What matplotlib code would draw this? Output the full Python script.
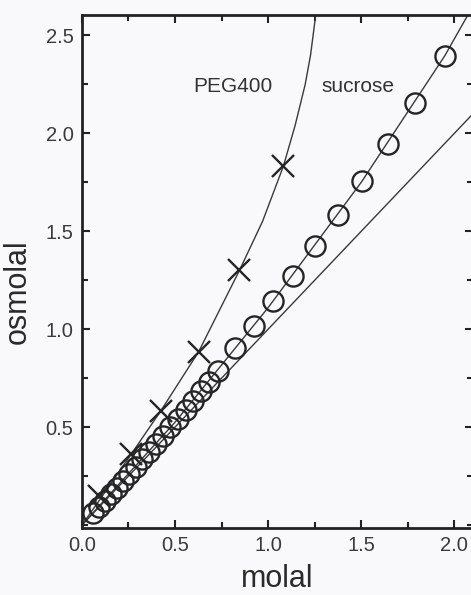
import numpy as np
import matplotlib
matplotlib.use("Agg")
import matplotlib.pyplot as plt
from matplotlib.ticker import MultipleLocator

plt.rcParams['font.family'] = ['Liberation Sans', 'DejaVu Sans']

# sucrose data points (molal, osmolal)
suc_molal = [0.060, 0.090, 0.122, 0.154, 0.187, 0.220, 0.254, 0.289, 0.325,
             0.361, 0.398, 0.437, 0.476, 0.516, 0.557, 0.598, 0.641, 0.685,
             0.730, 0.824, 0.923, 1.027, 1.136, 1.252, 1.375, 1.505, 1.643,
             1.791, 1.948]
suc_osmolal = [0.060, 0.092, 0.124, 0.157, 0.191, 0.226, 0.262, 0.299, 0.337,
               0.376, 0.416, 0.457, 0.499, 0.543, 0.588, 0.635, 0.683, 0.733,
               0.785, 0.905, 1.018, 1.143, 1.274, 1.425, 1.581, 1.756, 1.943,
               2.154, 2.395]

# sucrose fitted line
suc_fit_molal = [0.0, 0.5, 1.0, 1.5, 1.948, 2.07]
suc_fit_osmolal = [0.0, 0.525, 1.11, 1.75, 2.395, 2.60]

# PEG400 data points
peg_molal = [0.092, 0.265, 0.425, 0.627, 0.846, 1.082]
peg_osmolal = [0.150, 0.365, 0.585, 0.885, 1.301, 1.832]

# PEG400 fitted curve
peg_fit_molal = [0.0, 0.10, 0.265, 0.425, 0.627, 0.846, 0.97, 1.082, 1.145,
                 1.199, 1.228, 1.255]
peg_fit_osmolal = [0.0, 0.135, 0.362, 0.585, 0.885, 1.30, 1.55, 1.832, 2.04,
                   2.249, 2.40, 2.60]

# ideal line (osmolal = molal)
ideal_molal = [0.0, 2.2]
ideal_osmolal = [0.0, 2.2]

fig = plt.figure(figsize=(4.71, 5.95), dpi=100, facecolor='#f9f9fb')
ax = fig.add_axes([0.1737, 0.1134, 0.8306, 0.8618])
ax.set_facecolor('#f9f9fb')

line_col = '#3a3a3a'
ax.plot(ideal_molal, ideal_osmolal, color=line_col, lw=1.0)
ax.plot(suc_fit_molal, suc_fit_osmolal, color=line_col, lw=1.0)
ax.plot(peg_fit_molal, peg_fit_osmolal, color=line_col, lw=1.0)
ax.plot(suc_molal, suc_osmolal, ls='none', marker='o', ms=14.5, mfc='none',
        mec='#252525', mew=1.7)
ax.plot(peg_molal, peg_osmolal, ls='none', marker='x', ms=16,
        mec='#252525', mew=1.7)

ax.text(0.812, 2.211, 'PEG400', fontsize=15, ha='center', va='baseline',
        color='#333333')
ax.text(1.481, 2.211, 'sucrose', fontsize=15, ha='center', va='baseline',
        color='#333333')

ax.set_xlim(0, 2.10)
ax.set_ylim(-0.012, 2.605)

ax.xaxis.set_minor_locator(MultipleLocator(0.25))
ax.yaxis.set_minor_locator(MultipleLocator(0.25))
ax.set_xticks([0.0, 0.5, 1.0, 1.5, 2.0])
ax.set_xticklabels(['0.0', '0.5', '1.0', '1.5', '2.0'])
ax.set_yticks([0.5, 1.0, 1.5, 2.0, 2.5])
ax.set_yticklabels(['0.5', '1.0', '1.5', '2.0', '2.5'])

ax.tick_params(which='both', direction='in', top=True, right=True,
               color='#222222', width=1.5, labelsize=14.5, labelcolor='#3a3a3a')
ax.tick_params(which='major', length=6, pad=6)
ax.tick_params(which='minor', length=4)

for s in ax.spines.values():
    s.set_linewidth(2.0)
    s.set_color('#222222')

ax.set_xlabel('molal', fontsize=22, color='#2a2a2a')
ax.set_ylabel('osmolal', fontsize=22, color='#2a2a2a')
ax.xaxis.set_label_coords(0.5, -0.072)
ax.yaxis.set_label_coords(-0.126, 0.46)

fig.savefig('out.png', dpi=100, facecolor=fig.get_facecolor())
